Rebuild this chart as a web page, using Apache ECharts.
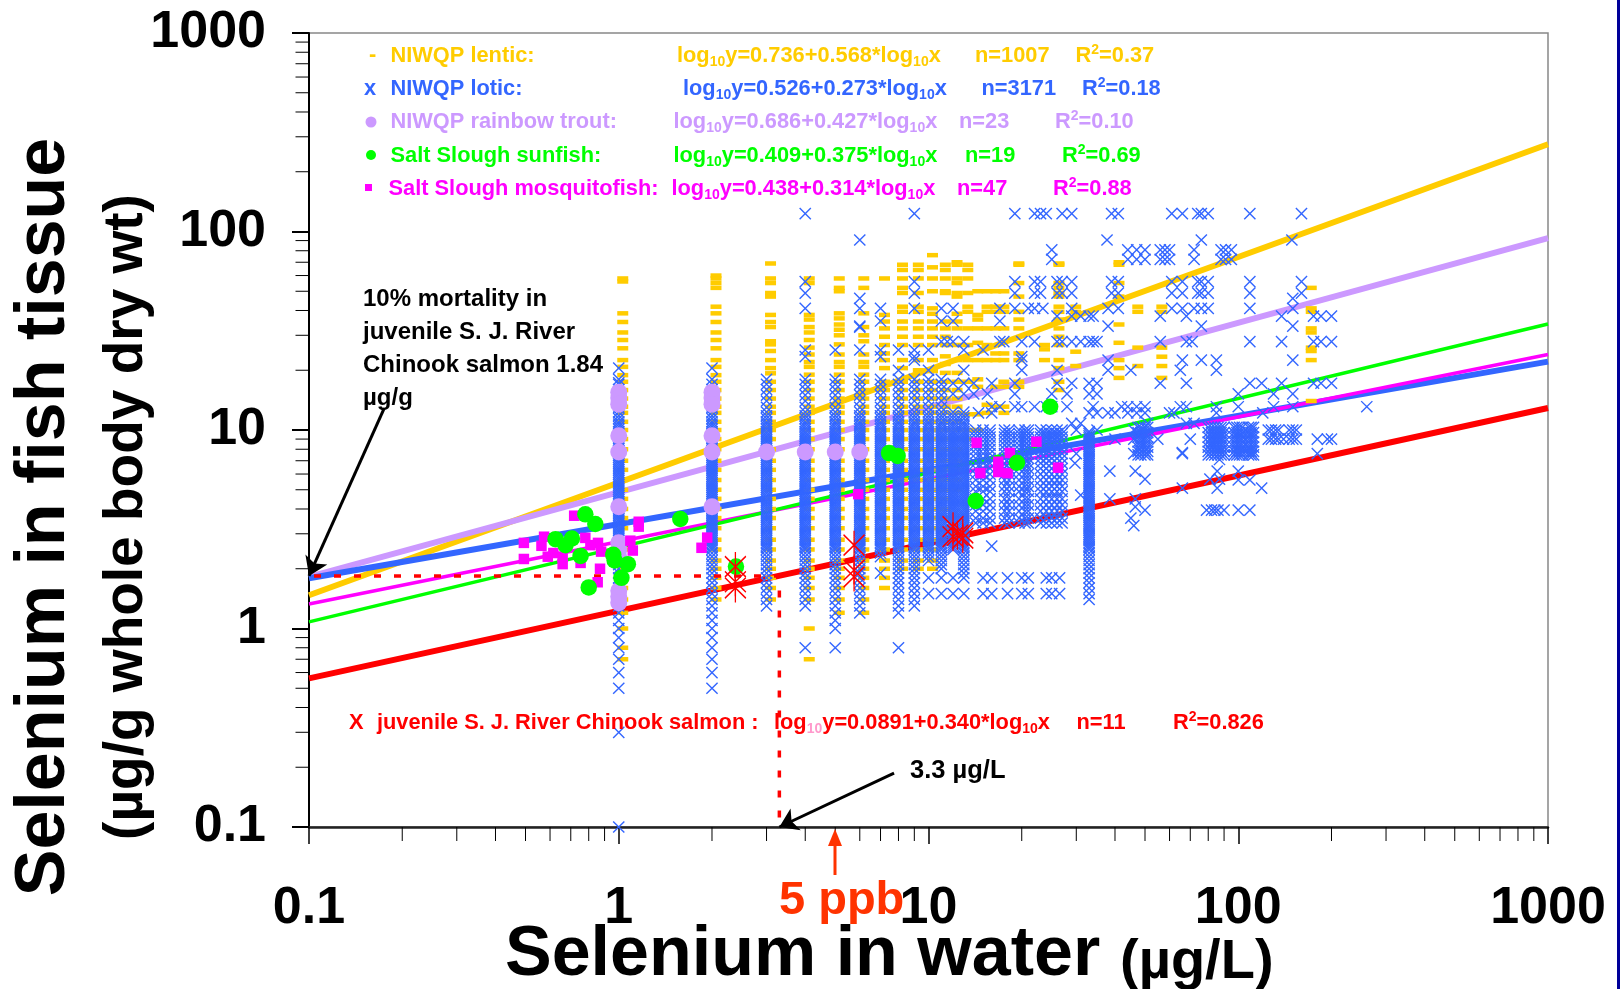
<!DOCTYPE html>
<html>
<head>
<meta charset="utf-8">
<title>Selenium in fish tissue vs water</title>
<script src="https://cdn.jsdelivr.net/npm/echarts@6/dist/echarts.min.js"></script>
<style>
  html, body { margin: 0; padding: 0; background: #fff; }
  #chart { width: 1620px; height: 989px; }
</style>
</head>
<body>
<div id="chart"></div>
<script>
// regression lines, end points at x = 0.1 and x = 1000
const lenticLine = [[0.1, 1.47], [1000, 275]];
const loticLine = [[0.1, 1.79], [1000, 22.1]];
const troutLine = [[0.1, 1.82], [1000, 92.7]];
const sunfishLine = [[0.1, 1.08], [1000, 34.2]];
const mosquitoLine = [[0.1, 1.33], [1000, 24]];
const salmonLine = [[0.1, 0.561], [1000, 12.9]];

const cutoffLine = [[0.1, 1.84], [3.3, 1.84], [3.3, 0.1]];

const minorTicks = [0.2, 0.3, 0.4, 0.5, 0.6, 0.7, 0.8, 0.9, 2, 3, 4, 5, 6, 7, 8, 9,
  20, 30, 40, 50, 60, 70, 80, 90, 200, 300, 400, 500, 600, 700, 800, 900];

// lentic: values shared by the crowded columns, then [x, lowest shared value, values above them]
const lenticLadder = [0.7, 0.8, 1, 1.2, 1.4, 1.6, 1.8, 2, 2.2, 2.5, 2.8, 3.2, 3.6, 4, 4.5, 5, 5.6, 6.3, 7, 8, 9, 10, 11, 12.2, 13.1, 14.4, 15.9, 17.5];
const lenticColumns = [
  [1, 0.7, [58, 56, 38.7, 35, 31, 28.4, 25.8, 22.5, 20.8, 18.9]],
  [2, 1.4, [60, 58, 55, 52, 41.8, 38.7, 35, 31, 28.4, 25.8, 22.5, 20.8, 18.9]],
  [3, 1.4, [69, 58, 55, 49, 47, 38, 35, 33, 28, 27, 25, 22.5, 20.5, 19.3]],
  [4, 1.4, [58, 55, 38, 36, 33, 31, 28.4, 26, 24, 22, 20.8, 19, 1, 0.7]],
  [5, 1.2, [58, 52, 50, 38.7, 36.5, 34, 32, 30, 27, 24, 22, 20.8, 19]],
  [6, 1.2, [58, 52, 38.7, 33, 30, 28, 24, 22, 20.8, 19]],
  [7, 1.6, [58, 38, 35.2, 32.5, 29.5, 26.8, 24.3, 22.5, 20.5]],
  [8, 2, [68, 64, 58, 52, 49, 41.8, 39.4, 35.2, 32.5, 29.5, 26.8, 22.5, 20.5]],
  [9, 2, [68, 64, 58, 49, 41.8, 39.4, 35.2, 32.5, 29.5, 26.8, 22.5, 20]],
  [10, 2, [76, 66, 58, 50, 41, 38.5, 35.2, 32.5, 29.5, 26.8, 22.5, 19.8]],
  [11, 3, [68, 64, 58, 50, 49, 35.2, 32.5, 29.5, 26.8, 23.5, 21.5, 19.4]],
  [12, 5, [70, 68, 58, 55, 49, 47, 38.5, 35.2, 32.5, 26.8, 22.5, 19.4]],
  [13, 99, [68, 64, 58, 49, 41.8, 39.4, 32.5, 26.8, 22.5, 17.5, 12, 10, 9]],
  [14, 99, [50, 38, 36, 32.5, 27.5, 22.5, 18, 16.5, 12, 10]],
  [15, 99, [50, 41.8, 39.4, 32.5, 26.8, 22.5, 13.4, 12.2]],
  [16, 99, [50, 41.8, 39.4, 32.5, 24.3, 22.5, 16.5, 13.1]],
  [17, 99, [50, 41.8, 39.4, 32.5, 24.3, 22.5, 17.5, 16.5, 13.1, 12.2]],
  [19, 99, [69, 68, 55, 47, 39.4, 36, 32.5, 24.3, 22.5, 17.5, 16.5]],
  [23, 99, [26.8, 25.5, 22.5]],
  [25.6, 99, [69, 68, 55, 52, 49, 47, 41.8, 39.4, 36, 32.5, 29.5, 26.8, 22.5, 20.5, 17.5, 15.9]],
  [29, 99, [41.8, 39.4, 24.8, 21]],
  [40, 99, [70, 68, 55, 47, 34, 27.5, 22.5, 20.5, 18.3]],
  [46, 99, [41.8, 39.4, 26, 21]],
  [55, 99, [41.8, 39.4, 26, 23.4, 21, 18.3]],
  [167, 99, [52, 41, 39.4, 32.5, 31, 26, 25, 22.5, 14]]
];

// lotic: tissue values that repeat from column to column
const loticLadder = [0.5, 0.6, 0.7, 0.8, 0.9, 1, 1.1, 1.2, 1.3, 1.4, 1.5, 1.6, 1.7, 1.8, 1.9, 2, 2.1, 2.2, 2.3, 2.4,
  2.5, 2.56, 2.63, 2.7, 2.77, 2.84, 2.91, 2.98, 3.06, 3.14, 3.22, 3.3, 3.38, 3.47, 3.56, 3.65, 3.74, 3.83, 3.93, 4.03,
  4.13, 4.23, 4.34, 4.45, 4.56, 4.67, 4.79, 4.91, 5.03, 5.16, 5.29, 5.42, 5.56, 5.7, 5.84, 5.99, 6.14, 6.29, 6.45, 6.61,
  6.78, 6.95, 7.12, 7.3, 7.48, 7.67, 7.86, 8.06, 8.26, 8.47, 8.68, 8.9, 9.12, 9.35, 9.58, 9.82, 10.1, 10.4, 10.7, 11, 11.4, 11.8,
  12.3, 13, 14, 15, 16, 17, 18];
const loticColumns = [
  [1, 0.5, 18], [2, 0.5, 18], [3, 1.3, 18], [4, 1.3, 18], [5, 1, 18], [6, 1.2, 18], [7, 2.3, 18],
  [8, 1.2, 18], [9, 1.3, 18], [10, 2.2, 18], [11, 2, 18], [12, 2.5, 12.3], [13, 1.9, 12.3], [33, 1.4, 10]
];
const loticBlockLadder = [3.4, 3.6, 3.9, 4.2, 4.5, 4.9, 5.2, 5.6, 6, 6.4, 6.8, 7.2, 7.6, 8, 8.4, 8.8, 9.2, 9.6, 10];
const loticBlockColumns = [14.2, 15, 15.8, 17.6, 18.2, 19.6, 20.5, 21, 23, 24, 25, 26, 27];
const loticClusterX = [47.5, 48.5, 50, 51, 80, 82, 84, 86, 88, 90, 97, 99, 101, 103, 108, 110, 112];
const loticClusterY = [7.5, 7.8, 8.2, 8.7, 9.2, 9.7, 10.3];

// [tissue value, water values read along that row]
const loticRows = [
  [123, [4, 9, 19, 22, 23, 24, 27, 29, 39, 41, 61, 66, 74, 76, 80, 109, 160]],
  [90.6, [6, 37.7, 76, 149]],
  [80.8, [25, 44, 47, 50, 56, 58, 60, 72, 88, 91, 95]],
  [72.4, [25, 44, 47, 50, 56, 58, 60, 72, 88, 91, 95]],
  [55.9, [4, 9, 19, 22, 23, 26, 27, 29, 39, 41, 61, 66, 74, 76, 80, 109, 160]],
  [48.9, [4, 9, 19, 22, 23, 26, 27, 29, 39, 41, 61, 66, 74, 76, 80, 109, 160]],
  [46, [6, 150]],
  [41, [6, 7, 4, 9, 11, 12, 17, 19, 21, 22, 23.4, 29, 38, 41, 61, 66, 72, 76, 80, 109, 150]],
  [37.5, [26, 29, 31, 33, 34, 56, 68, 138, 175, 185, 200]],
  [35.4, [7, 11, 12, 17]],
  [33.4, [6, 38, 76, 150]],
  [27.9, [11, 11.5, 12, 13, 17, 17.5, 20, 22, 26, 27, 29, 31, 33, 34, 35, 56, 68, 71, 109, 138, 175, 185, 200]],
  [25.3, [5, 6, 7, 8, 9, 10, 13, 15, 4]],
  [23.4, [4, 7, 9, 20]],
  [22.5, [9, 20, 38, 66, 76, 85, 150]],
  [20, [8, 10, 13, 20, 38, 65, 85, 26, 45]],
  [17.2, [12, 13, 14, 16, 19, 26, 29, 33, 35, 56, 68, 109, 119, 138, 175, 185, 200]],
  [15.2, [12, 13, 14, 15.5, 19, 25, 28, 33, 35, 100, 130, 150]],
  [13.1, [16, 17, 19, 20, 22, 24, 25, 28, 34, 42, 44, 47, 50, 65, 68, 85, 100, 130, 150, 260]],
  [12.2, [14.5, 16, 33, 35, 38, 40, 44, 47, 50, 60, 62, 85, 120]],
  [10.8, [29, 31, 51, 68, 72]],
  [10, [30, 35, 46, 125, 128, 132, 135, 146, 150, 154]],
  [9, [40, 46, 55, 70, 125, 128, 132, 135, 140, 146, 150, 154, 180, 194, 200]],
  [7.6, [30, 46, 66, 180]]
];
const loticExtras = [
  [1, 0.3], [1, 0.1], [1, 17.3], [1, 20.5], [2, 20.5], [4, 0.8], [5, 0.8], [8, 0.8], [6, 33], [7, 1.9],
  [29.7, 6.8], [31, 4.7], [38.5, 6.2], [46.5, 6.2], [50, 5.65], [66, 5.1], [85.5, 5.1], [85.5, 6.2], [81, 5.65], [87, 5.65],
  [100, 6.2], [100, 5.6], [109, 5.6], [119, 5.1], [38.5, 4.5], [46.5, 4.5], [46.5, 4.1], [50, 3.95], [45, 3.6], [46, 3.3],
  [79, 3.95], [82, 3.95], [84, 3.95], [86, 3.95], [90, 3.95], [100, 3.95], [109, 3.95], [66, 7.7], [87, 7.1], [16, 2.6]
];
const loticLowRowX = [10, 11, 12, 13, 15, 16, 18, 20, 21, 24, 25, 26.5];
const loticLowRowY = [1.5, 1.8];

const troutPoints = [
  [1, 15.5], [1, 14.5], [1, 13.5], [1, 9.35], [1, 7.75], [1, 4.1], [1, 2.7], [1, 2.5], [1, 2.3], [1, 1.55], [1, 1.45], [1, 1.35],
  [2, 15.5], [2, 14.5], [2, 13.5], [2, 9.35], [2, 7.75], [2, 4.1], [3, 7.75], [4, 7.75], [5, 7.75], [6, 7.75]
];
const sunfishPoints = [
  [0.78, 3.76], [0.84, 3.36], [0.625, 2.82], [0.706, 2.84], [0.673, 2.63], [0.753, 2.32], [1.58, 3.56], [0.8, 1.61], [0.97, 2.2], [1.07, 2.11],
  [1.02, 1.8], [0.96, 2.35], [2.39, 2.05], [7.46, 7.65], [7.95, 7.4], [14.2, 4.39], [19.3, 6.84], [24.7, 13.1]
];
const mosquitoPoints = [
  [0.494, 2.7], [0.494, 2.24], [0.718, 3.7], [0.574, 2.9], [0.563, 2.61], [0.59, 2.3], [0.659, 2.11], [0.615, 2.4], [0.659, 2.3], [0.78, 2.86],
  [0.81, 2.63], [0.857, 2.7], [0.877, 2.44], [0.753, 2.14], [0.87, 2], [0.855, 1.71], [1.16, 3.45], [1.16, 3.26], [1.09, 2.77], [1.11, 2.47],
  [1.93, 2.87], [1.85, 2.55], [5.93, 4.75], [14.3, 8.63], [16.8, 6.92], [18.3, 7.66], [16.8, 6.14], [18, 6.06], [14.7, 6.06], [22.3, 8.73], [26.2, 6.46]
];
const salmonPoints = [
  [2.38, 2.05], [2.38, 1.72], [2.38, 1.6], [5.75, 2.63], [5.75, 1.97], [5.75, 1.82],
  [12, 3.26], [12, 2.9], [12.9, 3.03], [12.9, 2.85], [12.4, 2.95]
];

const legendRows = [
  { color: '#FFCC00', name: 'NIWQP lentic:', a: '0.736', b: '0.568', n: 'n=1007', r: '0.37', y: 56, nameX: 390.5, eqX: 677, nX: 975, rX: 1075.5 },
  { color: '#3366FF', name: 'NIWQP lotic:', a: '0.526', b: '0.273', n: 'n=3171', r: '0.18', y: 89, nameX: 390.5, eqX: 683, nX: 981.5, rX: 1082 },
  { color: '#CC99FF', name: 'NIWQP rainbow trout:', a: '0.686', b: '0.427', n: 'n=23', r: '0.10', y: 122, nameX: 390.5, eqX: 673.5, nX: 959, rX: 1055 },
  { color: '#00FF00', name: 'Salt Slough sunfish:', a: '0.409', b: '0.375', n: 'n=19', r: '0.69', y: 156, nameX: 390.5, eqX: 673.5, nX: 965, rX: 1062 },
  { color: '#FF00FF', name: 'Salt Slough mosquitofish:', a: '0.438', b: '0.314', n: 'n=47', r: '0.88', y: 189, nameX: 388.5, eqX: 671.5, nX: 957, rX: 1053 }
];
const noteLines = ['10% mortality in', 'juvenile S. J. River', 'Chinook salmon 1.84', 'µg/g'];

const lenticPoints = [];
lenticColumns.forEach(([x, low, tops]) => {
  lenticLadder.filter(y => y >= low).forEach(y => lenticPoints.push([x, y]));
  tops.forEach(y => lenticPoints.push([x, y]));
});
const loticPoints = [];
loticColumns.forEach(([x, low, high]) => {
  loticLadder.filter(y => y >= low && y <= high).forEach(y => loticPoints.push([x, y]));
});
loticBlockColumns.forEach(x => loticBlockLadder.forEach(y => loticPoints.push([x, y])));
loticClusterX.forEach(x => loticClusterY.forEach(y => loticPoints.push([x, y])));
loticRows.forEach(([y, xs]) => xs.forEach(x => loticPoints.push([x, y])));
loticLowRowX.forEach(x => loticLowRowY.forEach(y => loticPoints.push([x, y])));
loticExtras.forEach(p => loticPoints.push(p));

const FONT = '"Liberation Sans", Arial, sans-serif';
const CROSS = 'path://M0 0L10 10M10 0L0 10';
const STAR = 'path://M0 2L10 12M10 2L0 12M5 0L5 14';

function richText(color) {
  const main = { fill: color, fontFamily: FONT, fontWeight: 'bold', fontSize: 21.8, lineHeight: 26 };
  return {
    m: main,
    t: main,
    s: { fill: color, fontFamily: FONT, fontWeight: 'bold', fontSize: 14, lineHeight: 14, verticalAlign: 'bottom' },
    p: { fill: '#FF99CC', fontFamily: FONT, fontWeight: 'bold', fontSize: 14, lineHeight: 14, verticalAlign: 'bottom' },
    u: { fill: color, fontFamily: FONT, fontWeight: 'bold', fontSize: 14, lineHeight: 14, verticalAlign: 'top' }
  };
}
function textAt(x, y, text, color, rich, size) {
  return {
    type: 'text', x, y, z: 50,
    style: {
      text, rich,
      fill: color,
      font: 'bold ' + (size || 21.8) + 'px ' + FONT,
      align: 'left',
      verticalAlign: 'middle'
    }
  };
}
function equation(a, b) {
  return '{m|log}{s|10}{m|y=' + a + '+' + b + '*log}{s|10}{m|x}';
}

const graphics = [];
legendRows.forEach(row => {
  const rich = richText(row.color);
  graphics.push(textAt(row.nameX, row.y, row.name, row.color));
  graphics.push(textAt(row.eqX, row.y, equation(row.a, row.b), row.color, rich));
  graphics.push(textAt(row.nX, row.y, row.n, row.color));
  graphics.push(textAt(row.rX, row.y, '{t|R}{u|2}{t|=' + row.r + '}', row.color, rich));
});
graphics.push(textAt(369, 55, '-', '#FFCC00'));
graphics.push(textAt(364, 89, 'x', '#3366FF'));
graphics.push({ type: 'circle', z: 50, shape: { cx: 371, cy: 122, r: 5.5 }, style: { fill: '#CC99FF' } });
graphics.push({ type: 'circle', z: 50, shape: { cx: 371, cy: 155, r: 5 }, style: { fill: '#00FF00' } });
graphics.push({ type: 'rect', z: 50, shape: { x: 365, y: 184, width: 7, height: 7 }, style: { fill: '#FF00FF' } });

noteLines.forEach((line, i) => {
  graphics.push(textAt(363, 299 + i * 33.2, line, '#000', undefined, 24));
});
graphics.push(textAt(910, 771, '3.3 µg/L', '#000', undefined, 25.5));

const redRich = richText('#FF0000');
graphics.push(textAt(349, 723, 'X', '#FF0000'));
graphics.push(textAt(377, 723, 'juvenile S. J. River Chinook salmon :', '#FF0000'));
graphics.push(textAt(774, 723, '{m|log}{p|10}{m|y=0.0891+0.340*log}{s|10}{m|x}', '#FF0000', redRich));
graphics.push(textAt(1076.5, 723, 'n=11', '#FF0000'));
graphics.push(textAt(1173, 723, '{t|R}{u|2}{t|=0.826}', '#FF0000', redRich));

// axis titles
graphics.push({
  type: 'text', x: 45, y: 517, rotation: Math.PI / 2, z: 50,
  style: { text: 'Selenium in fish tissue', fill: '#000', font: 'bold 70px ' + FONT, align: 'center', verticalAlign: 'middle' }
});
graphics.push({
  type: 'text', x: 127, y: 517, rotation: Math.PI / 2, z: 50,
  style: { text: '(µg/g whole body dry wt)', fill: '#000', font: 'bold 55px ' + FONT, align: 'center', verticalAlign: 'middle' }
});
graphics.push({
  type: 'text', x: 505, y: 956, z: 50,
  style: { text: 'Selenium in water', fill: '#000', font: 'bold 70px ' + FONT, align: 'left', verticalAlign: 'middle' }
});
graphics.push({
  type: 'text', x: 1120, y: 963, z: 50,
  style: { text: '(µg/L)', fill: '#000', font: 'bold 56px ' + FONT, align: 'left', verticalAlign: 'middle' }
});

// the 5 ppb pointer below the axis
graphics.push({
  type: 'text', x: 779, y: 901, z: 50,
  style: { text: '5 ppb', fill: '#FF3300', font: 'bold 47px ' + FONT, align: 'left', verticalAlign: 'middle' }
});
graphics.push({ type: 'line', z: 50, shape: { x1: 835, y1: 875, x2: 835, y2: 840 }, style: { stroke: '#FF3300', lineWidth: 3 } });
graphics.push({ type: 'polygon', z: 50, shape: { points: [[835, 829], [828, 846], [842, 846]] }, style: { fill: '#FF3300' } });

// dark edge of the source slide
graphics.push({ type: 'rect', z: 60, shape: { x: 1617, y: 0, width: 3, height: 989 }, style: { fill: '#000099' } });

function fitLine(name, data, color, width) {
  return {
    name, type: 'line', data, showSymbol: false, symbol: 'none', z: 2,
    lineStyle: { color, width, cap: 'butt' }, silent: true
  };
}
function tickSeries(values, toPoint, dx, dy) {
  return {
    type: 'custom', silent: true, z: 3, clip: false,
    data: values.map(toPoint),
    renderItem(params, api) {
      const p = api.coord([api.value(0), api.value(1)]);
      return {
        type: 'line',
        shape: { x1: p[0], y1: p[1], x2: p[0] + dx, y2: p[1] + dy },
        style: { stroke: '#000', lineWidth: 1 }
      };
    }
  };
}
function arrowData(from, to) {
  return [{ coord: from }, { coord: to }];
}

const axisLabelStyle = { color: '#000', fontFamily: FONT, fontWeight: 'bold', fontSize: 52, formatter: v => String(v) };

const option = {
  animation: false,
  backgroundColor: '#fff',
  grid: { left: 309, right: 72, top: 33, bottom: 162, show: true, borderColor: '#888', borderWidth: 1.5, backgroundColor: 'transparent' },
  xAxis: {
    type: 'log', logBase: 10, min: 0.1, max: 1000, splitNumber: 4,
    splitLine: { show: false },
    minorTick: { show: false },
    axisLine: { show: true, onZero: false, lineStyle: { color: '#222', width: 2.5 } },
    axisTick: { show: true, length: 17, lineStyle: { color: '#000', width: 1.5 } },
    axisLabel: { ...axisLabelStyle, margin: 56, showMinLabel: true, showMaxLabel: true, hideOverlap: false }
  },
  yAxis: {
    type: 'log', logBase: 10, min: 0.1, max: 1000, splitNumber: 4,
    splitLine: { show: false },
    minorTick: { show: false },
    axisLine: { show: true, onZero: false, lineStyle: { color: '#000', width: 2 } },
    axisTick: { show: true, length: 17, lineStyle: { color: '#000', width: 2 } },
    axisLabel: { ...axisLabelStyle, margin: 43, padding: [8, 0, 0, 0], showMinLabel: true, showMaxLabel: true, hideOverlap: false }
  },
  graphic: graphics,
  series: [
    fitLine('NIWQP lentic fit', lenticLine, '#FFCC00', 6),
    fitLine('NIWQP rainbow trout fit', troutLine, '#CC99FF', 6),
    fitLine('NIWQP lotic fit', loticLine, '#3366FF', 6),
    fitLine('Salt Slough mosquitofish fit', mosquitoLine, '#FF00FF', 3.5),
    fitLine('Salt Slough sunfish fit', sunfishLine, '#00FF00', 3.5),
    fitLine('Chinook salmon fit', salmonLine, '#FF0000', 6),
    {
      name: 'NIWQP lentic', type: 'scatter', data: lenticPoints, z: 4, silent: true,
      symbol: 'rect', symbolSize: [11, 4.5], symbolOffset: [4, 0],
      itemStyle: { color: '#FFCC00', opacity: 1 }
    },
    {
      name: 'NIWQP lotic', type: 'scatter', data: loticPoints, z: 5, silent: true,
      symbol: CROSS, symbolSize: 11.2,
      itemStyle: { color: 'rgba(0,0,0,0)', borderColor: '#3366FF', borderWidth: 1.4, opacity: 1 }
    },
    {
      name: 'cut-off', type: 'line', data: cutoffLine, symbol: 'none', z: 6, silent: true,
      lineStyle: { color: '#FF0000', width: 3.5, type: [7, 13], dashOffset: 15 },
      markLine: {
        silent: true, animation: false, symbol: ['none', 'arrow'], symbolSize: 18, label: { show: false },
        lineStyle: { color: '#000', width: 3, type: 'solid' },
        data: [arrowData([0.175, 12.9], [0.1, 1.84]), arrowData([7.74, 0.187], [3.3, 0.1])]
      }
    },
    {
      name: 'NIWQP rainbow trout', type: 'scatter', data: troutPoints, z: 7, silent: true,
      symbol: 'circle', symbolSize: 17, itemStyle: { color: '#CC99FF', opacity: 1 }
    },
    {
      name: 'Salt Slough mosquitofish', type: 'scatter', data: mosquitoPoints, z: 8, silent: true,
      symbol: 'rect', symbolSize: 10.5, itemStyle: { color: '#FF00FF', opacity: 1 }
    },
    {
      name: 'Salt Slough sunfish', type: 'scatter', data: sunfishPoints, z: 9, silent: true,
      symbol: 'circle', symbolSize: 16.5, itemStyle: { color: '#00FF00', opacity: 1 }
    },
    {
      name: 'juvenile Chinook salmon', type: 'scatter', data: salmonPoints, z: 10, silent: true,
      symbol: STAR, symbolSize: [21, 29],
      itemStyle: { color: 'rgba(0,0,0,0)', borderColor: '#FF0000', borderWidth: 1.5, opacity: 1 }
    },
    tickSeries(minorTicks, v => [v, 0.1], 0, 14),
    tickSeries(minorTicks, v => [0.1, v], -13.5, 0)
  ]
};

const myChart = echarts.init(document.getElementById('chart'), null, { renderer: 'canvas' });
myChart.setOption(option);
</script>
</body>
</html>
